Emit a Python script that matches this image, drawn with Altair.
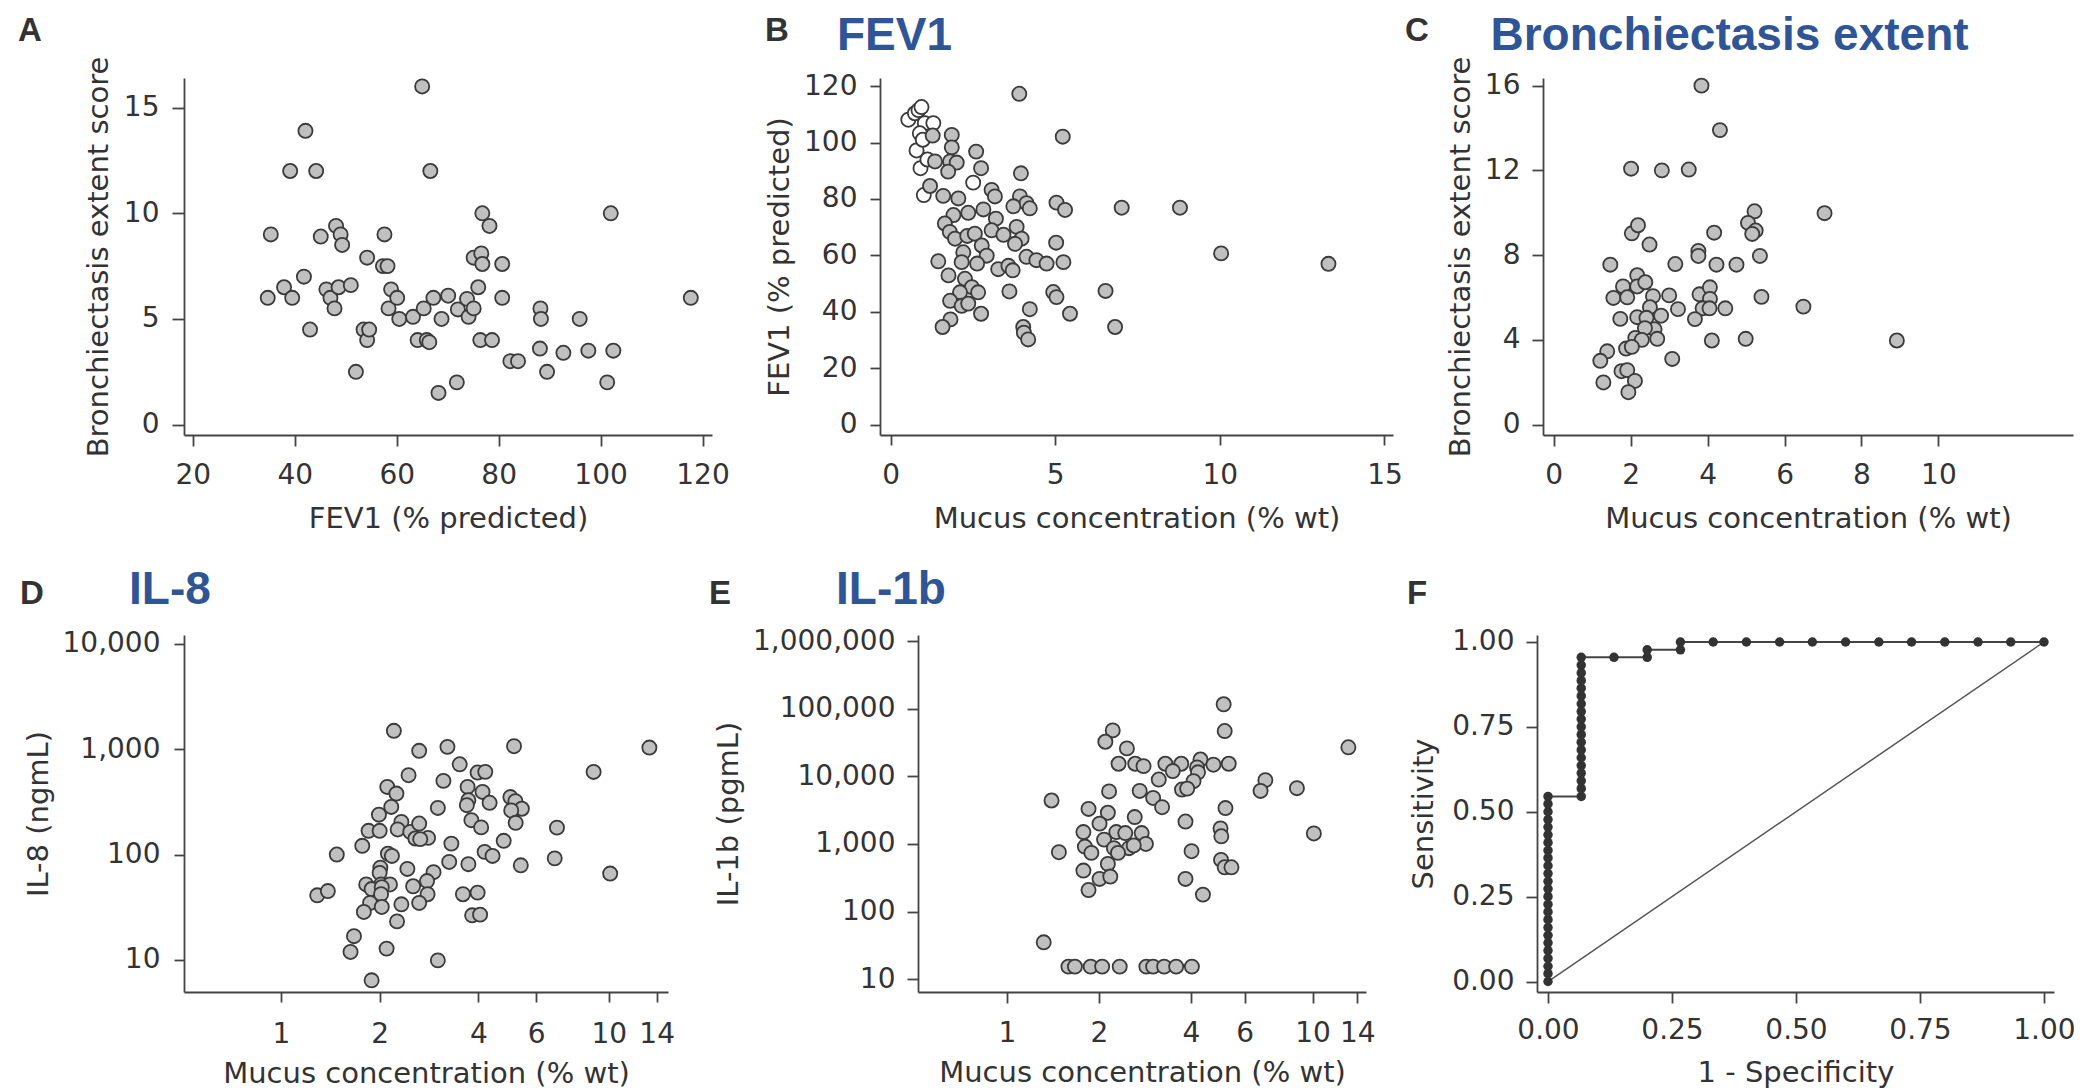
import altair as alt
import pandas as pd

# ---------------- data ----------------
# Panel A: FEV1 vs bronchiectasis extent score
a_fev1 = [34.7, 35.3, 37.9, 39.1, 39.5, 41.8, 42.1, 43.0, 44.2, 45.1, 46.2, 47.0, 47.8, 48.1, 49.0,
          49.3, 48.6, 51.0, 52.0, 53.5, 54.2, 54.6, 54.2, 57.6, 57.3, 58.2, 58.9, 58.4, 60.1, 60.5,
          63.2, 64.1, 65.0, 65.3, 65.9, 66.4, 66.6, 67.2, 68.2, 68.8, 70.1, 71.8, 72.0, 73.8, 74.1,
          75.1, 75.1, 76.0, 76.4, 76.6, 76.8, 76.8, 78.2, 78.7, 80.7, 80.7, 82.3, 83.8, 88.2, 88.3,
          88.1, 89.5, 92.7, 95.9, 97.6, 101.3, 102.0, 102.5, 117.7]
a_score = [6.0, 9.0, 6.5, 12.0, 6.0, 7.0, 13.9, 4.5, 12.0, 8.9, 6.4, 6.0, 5.5, 9.4, 9.0,
           8.5, 6.5, 6.6, 2.5, 4.5, 4.0, 4.5, 7.9, 9.0, 7.5, 7.5, 6.4, 5.5, 6.0, 5.0,
           5.1, 4.0, 16.0, 5.5, 4.0, 3.9, 12.0, 6.0, 1.5, 5.0, 6.1, 2.0, 5.45, 5.95, 5.1,
           5.5, 7.9, 6.5, 4.0, 8.1, 7.6, 10.0, 9.4, 4.0, 7.6, 6.0, 3.0, 3.0, 5.5, 5.0,
           3.6, 2.5, 3.4, 5.0, 3.5, 2.0, 10.0, 3.5, 6.0]

# Panel B: mucus concentration vs FEV1 (open = low-concentration group, filled = others)
b_open_mucus = [0.54, 0.74, 0.85, 0.94, 1.04, 1.30, 0.89, 0.79, 0.91, 1.01, 2.51, 1.12, 0.98]
b_open_fev1 = [108.1, 110.4, 111.5, 112.6, 106.9, 106.9, 103.3, 97.2, 90.9, 81.4, 85.8, 94.0, 101.0]
b_mucus = [3.91, 5.23, 1.28, 1.86, 1.86, 2.60, 1.35, 1.81, 2.01, 1.75, 2.75, 3.96, 1.20, 1.60, 2.06,
           3.07, 3.17, 3.93, 4.13, 3.73, 4.23, 5.04, 5.30, 7.02, 8.79, 1.91, 2.36, 2.82, 1.65, 1.80,
           1.96, 2.33, 2.56, 3.20, 3.07, 3.43, 3.83, 3.98, 3.78, 5.03, 2.77, 2.92, 2.21, 2.16, 1.45,
           2.63, 4.13, 4.43, 4.74, 5.25, 3.27, 3.58, 3.71, 1.76, 2.26, 2.47, 2.11, 2.66, 1.81, 2.16,
           2.36, 2.75, 1.82, 1.58, 3.61, 4.94, 5.04, 4.23, 5.45, 6.53, 6.82, 4.03, 4.05, 4.18, 10.04,
           13.3]
b_fev1 = [117.3, 102.1, 102.5, 102.7, 98.3, 96.8, 93.3, 93.3, 92.9, 89.7, 90.9, 89.1, 84.6, 81.1, 80.2,
          83.2, 80.9, 80.9, 78.5, 77.4, 76.7, 78.7, 76.1, 76.9, 76.9, 74.3, 75.1, 76.3, 71.3, 68.3,
          65.9, 66.9, 67.7, 73.0, 68.9, 67.3, 70.1, 65.9, 64.1, 64.5, 63.5, 59.9, 61.1, 57.6, 57.9,
          57.1, 59.5, 58.3, 57.1, 57.6, 55.1, 56.3, 54.7, 52.9, 51.7, 48.7, 46.9, 46.9, 43.9, 42.1,
          42.9, 39.3, 37.3, 34.6, 47.2, 47.0, 45.2, 40.9, 39.3, 47.4, 34.6, 34.6, 32.6, 30.2, 60.7,
          57.0]

# Panel C: mucus concentration vs bronchiectasis extent score
c_mucus = [3.84, 4.32, 2.01, 2.81, 3.51, 7.04, 5.22, 5.05, 5.25, 5.16, 4.17, 2.03, 2.19, 2.49, 1.47,
           3.16, 3.76, 3.76, 4.23, 4.75, 5.36, 2.17, 1.80, 2.17, 2.38, 1.55, 1.91, 2.58, 3.00, 3.79,
           4.06, 4.06, 5.40, 6.49, 2.50, 3.23, 3.87, 4.05, 4.46, 1.73, 2.17, 2.41, 2.79, 3.67, 2.62,
           2.37, 2.69, 2.12, 2.29, 4.11, 4.99, 8.92, 1.39, 1.21, 1.88, 2.03, 3.08, 1.76, 1.91, 2.11,
           1.29, 1.94]
c_score = [16.0, 13.9, 12.08, 12.0, 12.04, 9.98, 10.07, 9.52, 9.16, 9.0, 9.06, 9.03, 9.41, 8.5, 7.55,
           7.58, 8.2, 7.96, 7.55, 7.55, 7.96, 7.05, 6.52, 6.52, 6.72, 5.98, 6.01, 6.06, 6.10, 6.15,
           6.48, 5.93, 6.03, 5.57, 5.54, 5.45, 5.49, 5.49, 5.49, 4.99, 5.07, 5.04, 5.14, 4.98, 4.5,
           4.55, 4.05, 4.09, 4.0, 3.97, 4.05, 3.97, 3.46, 3.01, 3.59, 3.67, 3.10, 2.52, 2.57, 2.06,
           1.99, 1.53]

# Panel D: mucus concentration vs IL-8
d_mucus = [2.21, 2.64, 3.22, 5.14, 3.51, 3.98, 4.20, 2.45, 3.13, 2.11, 2.25, 3.71, 4.12, 3.73, 3.69,
           4.33, 5.01, 5.19, 5.43, 5.04, 5.20, 2.17, 1.99, 3.01, 6.95, 3.81, 4.08, 1.85, 2.00, 2.33,
           2.27, 2.48, 2.64, 2.57, 2.81, 2.66, 1.77, 3.31, 4.78, 1.48, 2.12, 2.18, 3.26, 3.73, 4.18,
           4.42, 5.39, 6.84, 2.01, 2.43, 2.92, 2.00, 1.82, 2.02, 1.89, 2.15, 2.53, 2.79, 2.80, 2.03,
           2.02, 1.87, 1.79, 2.03, 2.33, 2.64, 3.59, 3.98, 3.83, 4.05, 2.26, 1.29, 1.39, 1.67, 1.63,
           2.10, 3.01, 1.89, 8.99, 10.1, 13.3]
d_il8 = [1493, 964, 1052, 1067, 719, 600, 609, 566, 500, 438, 379, 438, 393, 328, 294,
         310, 351, 321, 272, 262, 200, 283, 239, 277, 180, 212, 181, 168, 168, 204,
         173, 164, 197, 142, 144, 140, 121, 127, 135, 100, 102, 97, 85, 81, 106,
         97, 79, 92, 75, 73, 68, 67, 52, 52, 47, 52, 50, 56, 42, 49,
         42, 34.7, 28.5, 31.8, 33.7, 34.7, 42, 43.5, 26.5, 26.9, 23.2, 41, 45, 16.8, 11.9,
         12.8, 9.9, 6.4, 608, 66, 1035]

# Panel E: mucus concentration vs IL-1b
e_mucus = [5.12, 5.16, 2.22, 2.10, 2.47, 2.32, 2.63, 2.80, 3.30, 3.72, 3.49, 4.30, 4.19, 4.22, 4.74,
           5.32, 3.14, 4.08, 3.74, 3.89, 7.01, 6.76, 2.16, 2.72, 3.01, 3.22, 5.19, 1.40, 1.85, 2.14,
           2.62, 2.01, 3.84, 1.78, 5.00, 5.03, 2.28, 2.44, 2.76, 2.08, 2.85, 1.80, 2.24, 2.51, 2.60,
           1.89, 2.31, 1.48, 4.02, 1.78, 2.14, 2.01, 2.18, 1.85, 5.02, 5.16, 5.43, 3.84, 4.38, 1.32,
           8.89, 10.1, 13.1,
           1.59, 1.67, 1.88, 2.05, 2.34, 2.86, 3.01, 3.27, 3.58, 4.03]
e_il1b = [117000, 47000, 48000, 32600, 26000, 15400, 15400, 14200, 15400, 15400, 12000, 17800, 13600, 11500, 14900,
          15400, 9000, 8500, 6400, 6600, 8800, 6100, 6000, 6100, 4800, 3500, 3400, 4400, 3300, 2900,
          2500, 2000, 2150, 1500, 1700, 1300, 1500, 1450, 1450, 1160, 1000, 916, 866, 866, 950,
          738, 738, 755, 781, 404, 507, 304, 329, 208, 581, 452, 452, 304, 178, 35,
          6700, 1430, 27000,
          15.3, 15.3, 15.3, 15.3, 15.3, 15.3, 15.3, 15.3, 15.3, 15.3]

# Panel F: ROC curve
roc_fpr = [0.0, 0.0, 0.0, 0.0, 0.0, 0.0, 0.0, 0.0, 0.0, 0.0, 0.0, 0.0, 0.0, 0.0, 0.0, 0.0, 0.0, 0.0,
           0.0, 0.0, 0.0, 0.0, 0.0, 0.0, 0.0,
           0.067, 0.067, 0.067, 0.067, 0.067, 0.067, 0.067, 0.067, 0.067, 0.067, 0.067, 0.067, 0.067,
           0.067, 0.067, 0.067, 0.067, 0.067, 0.067,
           0.133, 0.2, 0.2, 0.267, 0.267,
           0.333, 0.4, 0.467, 0.533, 0.6, 0.667, 0.733, 0.8, 0.867, 0.933, 1.0]
roc_tpr = [0.000, 0.023, 0.045, 0.068, 0.091, 0.114, 0.136, 0.159, 0.182, 0.205, 0.227, 0.250, 0.273,
           0.295, 0.318, 0.341, 0.364, 0.386, 0.409, 0.432, 0.455, 0.477, 0.500, 0.523, 0.545,
           0.545, 0.568, 0.591, 0.614, 0.636, 0.659, 0.682, 0.705, 0.727, 0.750, 0.773, 0.795, 0.818,
           0.841, 0.864, 0.886, 0.909, 0.932, 0.955,
           0.955, 0.955, 0.977, 0.977, 1.0,
           1.0, 1.0, 1.0, 1.0, 1.0, 1.0, 1.0, 1.0, 1.0, 1.0, 1.0]
diag_x = [0.0, 1.0]
diag_y = [0.0, 1.0]

# ---------------- style ----------------
FONT = "DejaVu Sans"
AXC = "#444444"
TXT = "#333333"
PT_FILL = "#c0c0c0"
PT_STROKE = "#3a3a3a"
BLUE = "#2f5597"
LETTER_FONT = "Liberation Sans"
BLUE_FONT = "Liberation Sans"
LSZ, BSZ = 33, 46
LABEL_SZ, TITLE_SZ = 28, 29
H = 357
W_A, W_B, W_C = 528, 513, 530
W_D, W_E, W_F = 484, 448, 517


def make_axis(values, title, orient, tick, pad, tx, ty, fmt=None):
    kw = dict(values=values, title=title, grid=False, domainColor=AXC, domainWidth=1.8,
              tickColor=AXC, tickWidth=1.8, tickSize=tick, labelPadding=pad,
              labelFont=FONT, labelFontSize=LABEL_SZ, labelColor=TXT, labelOverlap=False,
              labelFlush=False,
              titleFont=FONT, titleFontSize=TITLE_SZ, titleColor=TXT, titleFontWeight="normal",
              titleX=tx, titleY=ty, titleAlign="center")
    if orient == "left":
        kw.update(titleAngle=270, titleBaseline="middle")
    else:
        kw.update(titleAngle=0, titleBaseline="alphabetic")
    if fmt is not None:
        kw["format"] = fmt
    return alt.Axis(**kw)


def lin(lo, hi):
    return alt.Scale(domain=[lo, hi], nice=False, zero=False)


def logs(lo, hi):
    return alt.Scale(type="log", domain=[lo, hi], nice=False)


def scatter(df, xf, yf, xs, ys, xa, ya, fill):
    return alt.Chart(df).mark_circle(size=200, fill=fill, stroke=PT_STROKE, strokeWidth=1.8,
                                     opacity=1).encode(
        x=alt.X(xf, type="quantitative", scale=xs, axis=xa),
        y=alt.Y(yf, type="quantitative", scale=ys, axis=ya))


def tag(text, x, y, size, color, font):
    return alt.Chart(pd.DataFrame({"t": [text]})).mark_text(
        align="left", baseline="alphabetic", fontSize=size, font=font, fontWeight="bold",
        color=color).encode(x=alt.value(x), y=alt.value(y), text="t:N")


def spacer(w):
    return alt.Chart(pd.DataFrame({"a": [0]})).mark_point(opacity=0).properties(width=w, height=1)


MUCUS = "Mucus concentration (% wt)"
LOGX = [1, 2, 4, 6, 10, 14]

# ---- A ----
dfA = pd.DataFrame({"fev1": a_fev1, "score": a_score})
xsA, ysA = lin(18.27, 121.86), lin(-0.49, 16.40)
xaA = make_axis([20, 40, 60, 80, 100, 120], "FEV1 (% predicted)", "bottom", 11, 15, W_A / 2, 92.5)
yaA = make_axis([0, 5, 10, 15], "Bronchiectasis extent score", "left", 12, 13, -85.5, H / 2)
panelA = alt.layer(
    scatter(dfA, "fev1", "score", xsA, ysA, xaA, yaA, PT_FILL),
    tag("A", -166, -37, LSZ, TXT, LETTER_FONT),
).properties(width=W_A, height=H)

# ---- B ----
dfBo = pd.DataFrame({"mucus": b_open_mucus, "fev1": b_open_fev1})
dfB = pd.DataFrame({"mucus": b_mucus, "fev1": b_fev1})
xsB, ysB = lin(-0.32, 15.26), lin(-3.7, 122.9)
xaB = make_axis([0, 5, 10, 15], MUCUS, "bottom", 10, 16, W_B / 2, 92.5)
yaB = make_axis([0, 20, 40, 60, 80, 100, 120], "FEV1 (% predicted)", "left", 10, 13, -101, H / 2)
panelB = alt.layer(
    scatter(dfBo, "mucus", "fev1", xsB, ysB, xaB, yaB, "#ffffff"),
    scatter(dfB, "mucus", "fev1", xsB, ysB, xaB, yaB, PT_FILL),
    tag("B", -115, -37, LSZ, TXT, LETTER_FONT),
    tag("FEV1", -43, -28, BSZ, BLUE, BLUE_FONT),
).properties(width=W_B, height=H)

# ---- C ----
dfC = pd.DataFrame({"mucus": c_mucus, "score": c_score})
xsC, ysC = lin(-0.28, 13.5), lin(-0.49, 16.36)
xaC = make_axis([0, 2, 4, 6, 8, 10], MUCUS, "bottom", 11, 15, W_C / 2, 92.5)
yaC = make_axis([0, 4, 8, 12, 16], "Bronchiectasis extent score", "left", 11, 12, -83, H / 2)
panelC = alt.layer(
    scatter(dfC, "mucus", "score", xsC, ysC, xaC, yaC, PT_FILL),
    tag("C", -138, -37, LSZ, TXT, LETTER_FONT),
    tag("Bronchiectasis extent", -52.5, -28, BSZ, BLUE, BLUE_FONT),
).properties(width=W_C, height=H)

# ---- D ----
dfD = pd.DataFrame({"mucus": d_mucus, "il8": d_il8})
xsD, ysD = logs(0.506, 15.16), logs(4.96, 12120)
xaD = make_axis(LOGX, MUCUS, "bottom", 10, 18, W_D / 2, 90, "~g")
yaD = make_axis([10, 100, 1000, 10000], "IL-8 (ngmL)", "left", 10, 14, -146, H / 2, ",")
panelD = alt.layer(
    scatter(dfD, "mucus", "il8", xsD, ysD, xaD, yaD, PT_FILL),
    tag("D", -164, -31, LSZ, TXT, LETTER_FONT),
    tag("IL-8", -55, -31, BSZ, BLUE, BLUE_FONT),
).properties(width=W_D, height=H)

# ---- E ----
dfE = pd.DataFrame({"mucus": e_mucus, "il1b": e_il1b})
xsE, ysE = logs(0.512, 14.96), logs(6.44, 1240000)
xaE = make_axis(LOGX, MUCUS, "bottom", 11, 16, W_E / 2, 89, "~g")
yaE = make_axis([10, 100, 1000, 10000, 100000, 1000000], "IL-1b (pgmL)", "left", 11, 12,
                -189.5, H / 2, ",")
panelE = alt.layer(
    scatter(dfE, "mucus", "il1b", xsE, ysE, xaE, yaE, PT_FILL),
    tag("E", -209, -31, LSZ, TXT, LETTER_FONT),
    tag("IL-1b", -82, -31, BSZ, BLUE, BLUE_FONT),
).properties(width=W_E, height=H)

# ---- F ----
dfF = pd.DataFrame({"fpr": roc_fpr, "tpr": roc_tpr, "idx": list(range(len(roc_fpr)))})
dfDiag = pd.DataFrame({"fpr": diag_x, "tpr": diag_y})
xsF, ysF = lin(-0.0222, 1.0202), lin(-0.0309, 1.0206)
ticksF = [0, 0.25, 0.5, 0.75, 1.0]
xaF = make_axis(ticksF, "1 - Specificity", "bottom", 11, 13, W_F / 2, 89, ".2f")
yaF = make_axis(ticksF, "Sensitivity", "left", 11, 12, -113.5, H / 2, ".2f")
encF = dict(x=alt.X("fpr", type="quantitative", scale=xsF, axis=xaF),
            y=alt.Y("tpr", type="quantitative", scale=ysF, axis=yaF))
panelF = alt.layer(
    alt.Chart(dfDiag).mark_line(color="#555555", strokeWidth=1.5).encode(**encF),
    alt.Chart(dfF).mark_line(color="#444444", strokeWidth=2).encode(
        order=alt.Order("idx", type="quantitative"), **encF),
    alt.Chart(dfF).mark_circle(size=90, color="#333333", opacity=1).encode(**encF),
    tag("F", -130, -31, LSZ, TXT, LETTER_FONT),
).properties(width=W_F, height=H)

row1 = alt.hconcat(panelA, spacer(168), panelB, spacer(150), panelC, spacing=0, bounds="flush")
row2 = alt.hconcat(panelD, spacer(250), panelE, spacer(171), panelF, spacing=0, bounds="flush")

chart = alt.vconcat(row1, row2, spacing=33).properties(
    padding={"left": 10, "top": 5, "right": 0, "bottom": 4}
).configure_view(strokeWidth=0)

chart.save("out.html", embed_options={"renderer": "svg", "actions": False})
